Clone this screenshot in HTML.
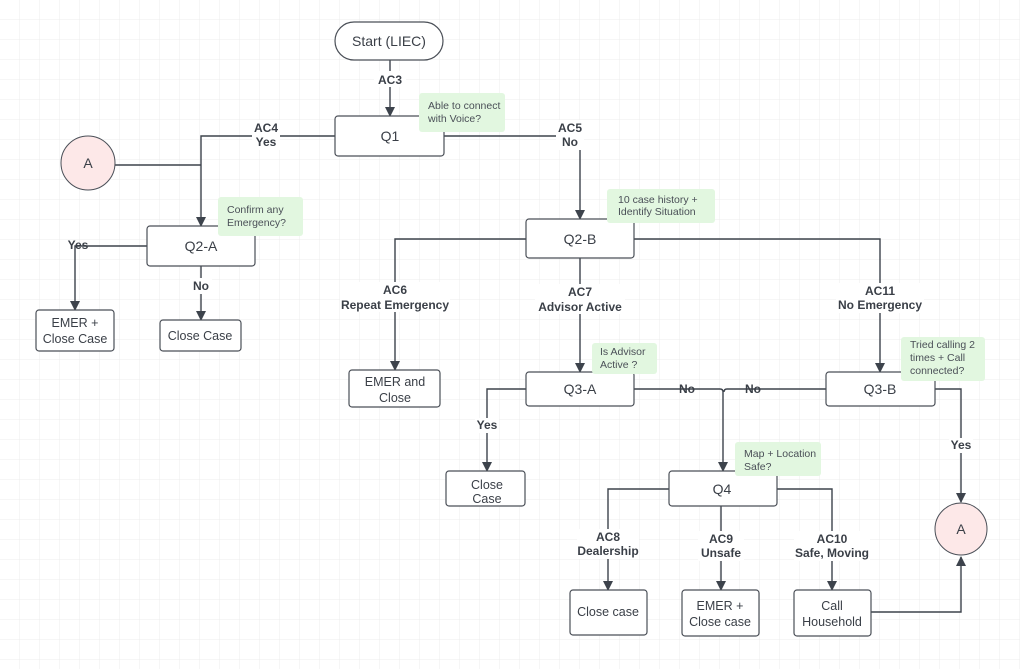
<!DOCTYPE html>
<html><head><meta charset="utf-8"><style>
html,body{margin:0;padding:0;background:#fff}
svg{display:block}
text{font-family:"Liberation Sans",sans-serif}
.n{font-size:14px;fill:#3a3f47;text-anchor:middle}
.s{font-size:12.5px;fill:#3a3f47;text-anchor:middle}
.l{font-size:12px;font-weight:bold;fill:#3a3f47;text-anchor:middle}
.t{font-size:10.5px;fill:#4a4f57}
.b{fill:#fff;stroke:#4a4f57;stroke-width:1.2}
.c{fill:none;stroke:#3d434c;stroke-width:1.4}
.g{fill:#e2f7e0}
.lb{fill:#fff}
</style></head><body>
<svg width="1020" height="669" viewBox="0 0 1020 669" xmlns="http://www.w3.org/2000/svg">
<defs>
<pattern id="grid" width="20" height="20" patternUnits="userSpaceOnUse"><path d="M20 0V20H0" fill="none" stroke="#ececec" stroke-width="1"/></pattern>
<marker id="a" markerWidth="10" markerHeight="10" refX="9" refY="5" orient="auto" markerUnits="userSpaceOnUse"><path d="M0,0 L10,5 L0,10 z" fill="#3d434c"/></marker>
</defs>
<rect width="1020" height="669" fill="url(#grid)"/>

<!-- connectors -->
<path class="c" d="M390 60 V116" marker-end="url(#a)"/>
<path class="c" d="M335 136 H201 V226" marker-end="url(#a)"/>
<path class="c" d="M115 165 H201" stroke-width="1"/>
<path class="c" d="M147 246 H75 V310" marker-end="url(#a)"/>
<path class="c" d="M201 266 V320" marker-end="url(#a)"/>
<path class="c" d="M444 136 H580 V219" marker-end="url(#a)"/>
<path class="c" d="M526 239 H395 V370" marker-end="url(#a)"/>
<path class="c" d="M580 258 V372" marker-end="url(#a)"/>
<path class="c" d="M634 239 H880 V372" marker-end="url(#a)"/>
<path class="c" d="M526 389 H487 V471" marker-end="url(#a)"/>
<path class="c" d="M634 389 H720 Q723 389 723 392 V471" marker-end="url(#a)"/>
<path class="c" d="M826 389 H727 Q724 389 724 392"/>
<path class="c" d="M777 489 H832 V590" marker-end="url(#a)"/>
<path class="c" d="M669 489 H608 V590" marker-end="url(#a)"/>
<path class="c" d="M721 506 V590" marker-end="url(#a)"/>
<path class="c" d="M935 389 H961 V502" marker-end="url(#a)"/>
<path class="c" d="M871 612 H961 V557" marker-end="url(#a)" stroke-width="1"/>

<!-- edge labels -->
<rect class="lb" x="374" y="71" width="32" height="16"/><text class="l" x="390" y="84">AC3</text>
<rect class="lb" x="252" y="120" width="28" height="30"/><text class="l" x="266" y="132">AC4</text><text class="l" x="266" y="146">Yes</text>
<rect class="lb" x="556" y="120" width="28" height="30"/><text class="l" x="570" y="132">AC5</text><text class="l" x="570" y="146">No</text>
<text class="l" x="78" y="249">Yes</text>
<rect class="lb" x="190" y="278" width="22" height="16"/><text class="l" x="201" y="290">No</text>
<rect class="lb" x="340" y="282" width="110" height="30"/><text class="l" x="395" y="294">AC6</text><text class="l" x="395" y="309">Repeat Emergency</text>
<rect class="lb" x="535" y="284" width="90" height="30"/><text class="l" x="580" y="296">AC7</text><text class="l" x="580" y="311">Advisor Active</text>
<rect class="lb" x="836" y="283" width="88" height="30"/><text class="l" x="880" y="295">AC11</text><text class="l" x="880" y="309">No Emergency</text>
<text class="l" x="687" y="393">No</text>
<text class="l" x="753" y="393">No</text>
<rect class="lb" x="475" y="418" width="24" height="15"/><text class="l" x="487" y="429">Yes</text>
<rect class="lb" x="949" y="438" width="24" height="15"/><text class="l" x="961" y="449">Yes</text>
<rect class="lb" x="577" y="529" width="62" height="30"/><text class="l" x="608" y="541">AC8</text><text class="l" x="608" y="555">Dealership</text>
<rect class="lb" x="698" y="531" width="46" height="30"/><text class="l" x="721" y="543">AC9</text><text class="l" x="721" y="557">Unsafe</text>
<rect class="lb" x="794" y="531" width="76" height="30"/><text class="l" x="832" y="543">AC10</text><text class="l" x="832" y="557">Safe, Moving</text>

<!-- nodes -->
<rect class="b" x="335" y="22" width="108" height="38" rx="19"/><text class="n" x="389" y="46">Start (LIEC)</text>
<rect class="b" x="335" y="116" width="109" height="40" rx="3"/><text class="n" x="390" y="141">Q1</text>
<circle cx="88" cy="163" r="27" fill="#fde8e8" stroke="#4a4f57" stroke-width="1"/><text class="n" x="88" y="168">A</text>
<rect class="b" x="147" y="226" width="108" height="40" rx="3"/><text class="n" x="201" y="251">Q2-A</text>
<rect class="b" x="36" y="310" width="78" height="41" rx="3"/><text class="s" x="75" y="327">EMER +</text><text class="s" x="75" y="343">Close Case</text>
<rect class="b" x="160" y="320" width="81" height="31" rx="3"/><text class="s" x="200" y="340">Close Case</text>
<rect class="b" x="526" y="219" width="108" height="39" rx="3"/><text class="n" x="580" y="244">Q2-B</text>
<rect class="b" x="349" y="370" width="91" height="37" rx="3"/><text class="s" x="395" y="386">EMER and</text><text class="s" x="395" y="402">Close</text>
<rect class="b" x="526" y="372" width="108" height="34" rx="3"/><text class="n" x="580" y="394">Q3-A</text>
<rect class="b" x="826" y="372" width="109" height="34" rx="3"/><text class="n" x="880" y="394">Q3-B</text>
<rect class="b" x="446" y="471" width="79" height="35" rx="3"/><text class="s" x="487" y="489">Close</text><text class="s" x="487" y="503">Case</text>
<rect class="b" x="669" y="471" width="108" height="35" rx="3"/><text class="n" x="722" y="494">Q4</text>
<rect class="b" x="570" y="590" width="77" height="45" rx="3"/><text class="s" x="608" y="616">Close case</text>
<rect class="b" x="682" y="590" width="77" height="46" rx="3"/><text class="s" x="720" y="610">EMER +</text><text class="s" x="720" y="626">Close case</text>
<rect class="b" x="794" y="590" width="77" height="46" rx="3"/><text class="s" x="832" y="610">Call</text><text class="s" x="832" y="626">Household</text>
<circle cx="961" cy="529" r="26" fill="#fde8e8" stroke="#4a4f57" stroke-width="1"/><text class="n" x="961" y="534">A</text>

<!-- notes -->
<rect class="g" x="419" y="93" width="86" height="39" rx="3"/><text class="t" x="428" y="109">Able to connect</text><text class="t" x="428" y="122">with Voice?</text>
<rect class="g" x="218" y="197" width="85" height="39" rx="3"/><text class="t" x="227" y="213">Confirm any</text><text class="t" x="227" y="226">Emergency?</text>
<rect class="g" x="607" y="189" width="108" height="34" rx="3"/><text class="t" x="618" y="203">10 case history +</text><text class="t" x="618" y="215">Identify Situation</text>
<rect class="g" x="592" y="343" width="65" height="31" rx="3"/><text class="t" x="600" y="355">Is Advisor</text><text class="t" x="600" y="368">Active ?</text>
<rect class="g" x="901" y="337" width="84" height="44" rx="3"/><text class="t" x="910" y="348">Tried calling 2</text><text class="t" x="910" y="361">times + Call</text><text class="t" x="910" y="374">connected?</text>
<rect class="g" x="735" y="442" width="86" height="34" rx="3"/><text class="t" x="744" y="457">Map + Location</text><text class="t" x="744" y="470">Safe?</text>
</svg>
</body></html>
